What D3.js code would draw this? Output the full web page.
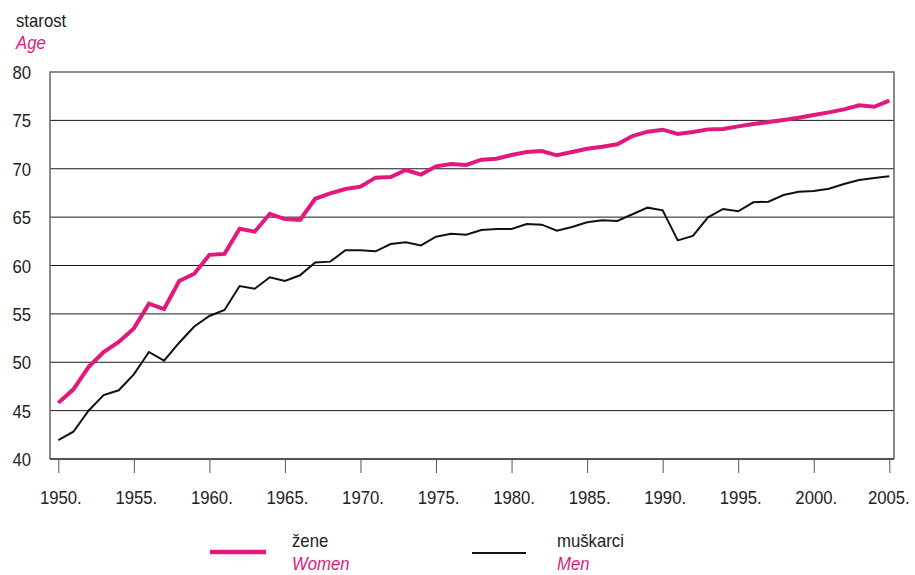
<!DOCTYPE html>
<html><head><meta charset="utf-8">
<script src="https://cdn.jsdelivr.net/npm/d3@7"></script>
<style>
body{margin:0;background:#fff;}
text{font-family:"Liberation Sans Narrow","Arial Narrow","Liberation Sans",sans-serif;}
</style></head>
<body><svg id="c" width="915" height="575"></svg>
<script>
const years = d3.range(1950, 2006);
const women = [45.8,47.2,49.5,51.05,52.1,53.5,56.05,55.5,58.4,59.15,61.1,61.2,63.8,63.5,65.35,64.8,64.7,66.9,67.45,67.9,
  68.15,69.08,69.15,69.87,69.4,70.25,70.5,70.4,70.94,71.04,71.42,71.73,71.83,71.39,71.73,72.07,72.28,72.53,73.38,73.83,
  74.04,73.6,73.8,74.07,74.1,74.38,74.62,74.83,75.04,75.28,75.55,75.83,76.14,76.55,76.41,77.04];
const men = [41.96,42.82,44.99,46.6,47.1,48.75,51.06,50.16,52.02,53.7,54.78,55.4,57.88,57.6,58.78,58.4,58.99,60.3,60.4,61.57,
  61.57,61.47,62.22,62.4,62.08,62.98,63.29,63.19,63.67,63.77,63.77,64.29,64.22,63.6,63.98,64.46,64.67,64.6,65.3,65.98,
  65.7,62.6,63.05,64.98,65.84,65.6,66.53,66.6,67.29,67.63,67.7,67.94,68.42,68.84,69.04,69.22];
const yTicks = [40,45,50,55,60,65,70,75,80];
const xTicks = [1950,1955,1960,1965,1970,1975,1980,1985,1990,1995,2000,2005];
const seriesNames = [{sr:"žene", en:"Women"},{sr:"muškarci", en:"Men"}];
const titleSr = "starost", titleEn = "Age";

const pink = "#e2187b";
const svg = d3.select("#c");
const x = d3.scaleLinear().domain([1950,2005]).range([58.3,889.3]);
const y = d3.scaleLinear().domain([40,80]).range([459,72]);
const L = 50, R = 894;

// gridlines
svg.append("g").selectAll("line").data(yTicks.filter(v=>v>40 && v<80)).join("line")
  .attr("x1",L).attr("x2",R).attr("y1",d=>y(d)).attr("y2",d=>y(d))
  .attr("stroke","#1a1a1a").attr("stroke-width",1);
// frame
svg.append("path").attr("d",`M${L},${y(40)}V${y(80)}H${R}V${y(40)}`)
  .attr("fill","none").attr("stroke","#666").attr("stroke-width",1.5);
svg.append("line").attr("x1",L).attr("x2",R).attr("y1",y(40)).attr("y2",y(40))
  .attr("stroke","#1a1a1a").attr("stroke-width",1.5);

// y labels
svg.append("g").selectAll("text").data(yTicks).join("text")
  .attr("x",31).attr("y",d=>y(d)+7).attr("text-anchor","end")
  .attr("font-size",19).attr("fill","#222").text(d=>d);

// x axis
const xa = d3.axisBottom(x).tickValues(xTicks).tickSize(14).tickPadding(18).tickFormat(d=>d+".");
const gx = svg.append("g").attr("transform",`translate(0,${y(40)})`).call(xa);
gx.select(".domain").remove();
gx.selectAll(".tick line").attr("stroke","#555").attr("stroke-width",1);
gx.selectAll(".tick text").attr("font-size",19).attr("fill","#222")
  .attr("font-family",'"Liberation Sans Narrow","Arial Narrow","Liberation Sans",sans-serif')
  .attr("dx",d=>d===2005?-1:2);

// lines
const line = d3.line().x((d,i)=>x(years[i])).y(d=>y(d));
svg.append("path").datum(men).attr("d",line).attr("fill","none")
  .attr("stroke","#111").attr("stroke-width",2).attr("stroke-linejoin","miter");
svg.append("path").datum(women).attr("d",line).attr("fill","none")
  .attr("stroke",pink).attr("stroke-width",4).attr("stroke-linejoin","miter");

// title
svg.append("text").attr("x",16).attr("y",27).attr("font-size",19).attr("fill","#222").text(titleSr);
svg.append("text").attr("x",16).attr("y",49).attr("font-size",19).attr("fill",pink)
  .attr("font-style","italic").text(titleEn);

// legend
const leg = [{x1:210,x2:266,ly:552,c:pink,w:4.5,tx:292},{x1:472,x2:526,ly:553,c:"#111",w:2,tx:557}];
leg.forEach((l,i)=>{
  svg.append("line").attr("x1",l.x1).attr("x2",l.x2).attr("y1",l.ly).attr("y2",l.ly)
    .attr("stroke",l.c).attr("stroke-width",l.w);
  svg.append("text").attr("x",l.tx).attr("y",547).attr("font-size",19).attr("fill","#222").text(seriesNames[i].sr);
  svg.append("text").attr("x",l.tx).attr("y",570).attr("font-size",19).attr("fill",pink)
    .attr("font-style","italic").text(seriesNames[i].en);
});

// condense all text to mimic a narrow typeface
svg.selectAll("text").each(function(){
  const w = this.getComputedTextLength();
  d3.select(this).attr("textLength", (w*0.88).toFixed(1)).attr("lengthAdjust","spacingAndGlyphs");
});
</script></body></html>
